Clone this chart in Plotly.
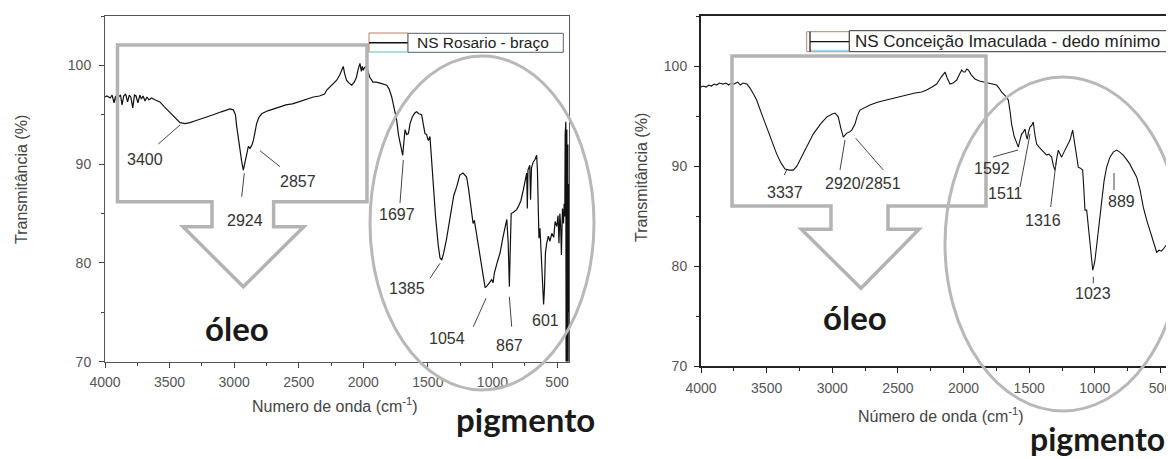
import plotly.graph_objects as go

# ---------------- data ----------------
series_names = ["NS Rosario - braço", "NS Conceição Imaculada - dedo mínimo"]

rosario_wn = [4000, 3985, 3960, 3945, 3930, 3918, 3905, 3895, 3880, 3868, 3855, 3840, 3825, 3812,
              3800, 3785, 3772, 3760, 3745, 3730, 3718, 3705, 3690, 3675, 3660, 3640, 3610, 3575,
              3540, 3497, 3460, 3419, 3380, 3342, 3300, 3250, 3200, 3162, 3100, 3060, 3032, 3007,
              2990, 2980, 2968, 2955, 2942, 2929, 2916, 2903, 2890, 2877, 2864, 2851, 2840, 2826,
              2810, 2787, 2740, 2700, 2645, 2600, 2550, 2500, 2450, 2387, 2340, 2300, 2283, 2260,
              2230, 2206, 2180, 2165, 2155, 2145, 2130, 2110, 2090, 2070, 2053, 2040, 2026, 2015,
              2008, 2000, 1990, 1976, 1962, 1950, 1925, 1900, 1870, 1840, 1818, 1800, 1780, 1760,
              1742, 1728, 1716, 1705, 1695, 1686, 1677, 1664, 1651, 1638, 1620, 1600, 1587, 1570,
              1548, 1535, 1522, 1510, 1497, 1484, 1471, 1458, 1440, 1420, 1406, 1393, 1380, 1357,
              1330, 1300, 1277, 1253, 1228, 1200, 1185, 1174, 1160, 1150, 1140, 1130, 1110, 1083,
              1057, 1040, 1020, 1006, 995, 985, 960, 941, 920, 900, 889, 878, 869, 862,
              855, 840, 813, 800, 780, 761, 745, 735, 730, 725, 711, 705, 698, 685,
              670, 658, 652, 646, 640, 632, 622, 612, 604, 597, 590, 580, 567, 555,
              540, 525, 515, 502, 492, 485, 478, 472, 466, 458, 450, 445, 440, 437,
              434, 432, 430, 428, 426, 424, 422, 420, 418, 416, 414, 412, 410, 408]
rosario_t = [96.8, 96.9, 96.7, 97.0, 96.2, 96.9, 95.9, 96.8, 97.0, 96.0, 96.9, 97.1, 96.3, 97.0,
             96.8, 95.7, 97.0, 96.9, 96.2, 97.0, 96.6, 96.9, 96.4, 96.8, 96.5, 96.7, 96.5, 96.3,
             95.8, 95.2, 94.7, 94.2, 94.1, 94.2, 94.4, 94.6, 94.8, 95.0, 95.3, 95.5, 95.6, 95.5,
             95.0, 93.8, 92.6, 91.4, 90.3, 89.4, 90.2, 90.8, 91.8, 91.6, 91.9, 92.4, 93.3, 94.1,
             94.7, 95.1, 95.4, 95.6, 95.8, 96.0, 96.1, 96.3, 96.5, 96.8, 96.9, 97.1, 97.5, 97.8,
             98.2, 98.5, 99.1, 99.6, 99.9, 99.2, 98.5, 98.2, 98.0, 98.3, 98.8, 99.6, 100.2, 99.4,
             99.9, 99.5, 99.8, 99.9, 99.2, 98.8, 98.3, 98.3, 98.2, 98.1, 98.0, 97.6, 96.8, 95.6,
             94.5, 93.0, 92.1, 91.5, 90.9, 92.2, 93.5, 93.0, 93.1, 94.1, 94.8, 95.2, 95.3, 95.1,
             95.0, 94.0, 93.1, 93.0, 92.4, 92.8, 90.4, 87.7, 84.6, 81.8, 80.5, 80.3, 80.9, 82.3,
             84.6, 86.8, 87.7, 88.9, 89.1, 88.7, 87.5, 86.4, 84.5, 84.0, 84.3, 83.5, 81.5, 79.6,
             77.5, 77.7, 78.1, 78.3, 78.0, 79.0, 80.2, 81.0, 82.5, 84.0, 84.4, 82.0, 77.6, 81.5,
             85.0, 85.1, 85.4, 85.7, 86.3, 87.4, 88.3, 89.1, 85.5, 89.4, 89.9, 86.4, 89.6, 90.2,
             90.5, 90.9, 89.5, 84.0, 82.5, 83.5, 81.0, 79.0, 75.8, 77.5, 81.0, 82.0, 82.7, 82.2,
             83.0, 82.6, 84.2, 83.7, 84.8, 82.0, 85.0, 83.8, 80.8, 85.5, 84.0, 86.0, 84.7, 93.0,
             72.0, 94.3, 70.0, 91.0, 74.0, 93.5, 70.0, 90.0, 73.0, 92.0, 70.0, 88.0, 75.0, 85.0]

conceicao_wn = [4000, 3985, 3960, 3940, 3920, 3900, 3880, 3860, 3832, 3810, 3790, 3770, 3750, 3720,
                3700, 3680, 3650, 3627, 3600, 3576, 3540, 3500, 3460, 3423, 3390, 3360, 3330, 3297,
                3270, 3246, 3200, 3145, 3090, 3043, 3000, 2979, 2965, 2954, 2935, 2916, 2903, 2890,
                2870, 2852, 2827, 2810, 2789, 2750, 2713, 2650, 2560, 2500, 2433, 2370, 2320, 2281,
                2240, 2205, 2170, 2141, 2125, 2103, 2080, 2052, 2030, 2014, 2000, 1989, 1975, 1963,
                1940, 1913, 1880, 1850, 1800, 1770, 1748, 1730, 1710, 1680, 1659, 1645, 1634, 1615,
                1600, 1583, 1570, 1558, 1545, 1532, 1522, 1515, 1505, 1494, 1480, 1469, 1455, 1443,
                1425, 1405, 1385, 1367, 1350, 1329, 1315, 1304, 1290, 1278, 1265, 1253, 1235, 1215,
                1200, 1189, 1169, 1160, 1151, 1140, 1126, 1110, 1093, 1085, 1075, 1062, 1050, 1042,
                1030, 1023, 1016, 1008, 999, 985, 974, 960, 948, 930, 910, 895, 885, 860,
                834, 810, 784, 760, 733, 710, 681, 655, 631, 605, 580, 555, 540, 529,
                510, 495, 479, 460, 440, 425, 415]
conceicao_t = [97.9, 98.0, 97.9, 98.1, 98.0, 98.2, 98.1, 98.3, 98.2, 98.3, 98.1, 98.3, 98.2, 98.4,
               98.1, 98.3, 98.2, 97.8, 97.2, 96.6, 95.3, 93.9, 92.5, 91.2, 90.3, 89.7, 89.6, 89.6,
               90.0, 90.6, 91.9, 93.2, 94.2, 94.9, 95.2, 95.3, 95.1, 94.9, 93.8, 92.9, 93.1, 93.3,
               93.4, 93.6, 94.2, 95.0, 95.6, 95.9, 96.1, 96.4, 96.7, 96.9, 97.1, 97.3, 97.4, 97.6,
               97.9, 98.2, 98.9, 99.4, 98.8, 98.2, 98.3, 98.6, 99.2, 99.6, 99.4, 99.4, 99.7, 99.6,
               99.1, 98.7, 98.5, 98.4, 98.3, 98.2, 98.1, 97.8, 97.4, 97.0, 96.6, 95.4, 94.2, 93.0,
               92.4, 91.9, 92.6, 93.2, 93.4, 93.7, 93.0, 92.7, 93.4, 93.9, 94.1, 94.4, 93.0, 92.2,
               91.9, 91.6, 91.3, 91.1, 91.2, 90.9, 90.0, 89.6, 90.8, 91.6, 91.2, 90.9, 91.4, 91.9,
               92.3, 92.6, 93.6, 92.8, 91.9, 90.8, 89.9, 89.8, 89.6, 88.0, 85.6, 85.6, 84.0, 82.9,
               81.0, 80.0, 79.6, 80.0, 80.6, 82.2, 83.6, 85.2, 86.6, 88.5, 89.9, 90.4, 90.9, 91.4,
               91.6, 91.4, 91.1, 90.7, 90.2, 89.6, 88.9, 87.6, 85.9, 84.6, 83.5, 82.6, 81.9, 81.4,
               81.6, 81.5, 81.7, 82.1, 82.4, 82.0, 82.1]

rosario_peak_labels = ["3400", "2924", "2857", "1697", "1385", "1054", "867", "601"]
conceicao_peak_labels = ["3337", "2920/2851", "1592", "1511", "1316", "1023", "889"]
region_labels = ["óleo", "pigmento"]
x_titles = ["Numero de onda (cm<sup>-1</sup>)", "Número de onda (cm<sup>-1</sup>)"]
y_title = "Transmitância (%)"

# ---------------- layout helpers ----------------
W, H = 1174, 459
OFF = 8  # page body margin of the exported html
FONT = "Liberation Sans, Arial, sans-serif"
BOLD = "Lato, Noto Sans, sans-serif"


def px(x):
    return (x - OFF) / W


def py(y):
    return 1 - (y - OFF) / H


fig = go.Figure()
fig.add_trace(go.Scatter(x=rosario_wn, y=rosario_t, mode="lines", name=series_names[0],
                         line=dict(color="#111111", width=1.2), xaxis="x", yaxis="y",
                         showlegend=False, hoverinfo="skip"))
fig.add_trace(go.Scatter(x=conceicao_wn, y=conceicao_t, mode="lines", name=series_names[1],
                         line=dict(color="#111111", width=1.1), xaxis="x2", yaxis="y2",
                         showlegend=False, hoverinfo="skip"))

tickfont = dict(family=FONT, size=14, color="#555555")
common = dict(showgrid=False, zeroline=False, showline=True, ticks="outside", tickfont=tickfont,
              automargin=False)

fig.update_layout(
    width=W, height=H, autosize=False, margin=dict(l=0, r=0, t=0, b=0),
    paper_bgcolor="white", plot_bgcolor="white", font=dict(family=FONT),
    xaxis=dict(domain=[px(105), px(569.3)], range=[4000, 405], anchor="y", tick0=0, dtick=500,
               ticklen=5, tickcolor="#444", linecolor="#555", linewidth=1, mirror=True,
               minor=dict(ticks="outside", ticklen=3, tick0=0, dtick=250, tickcolor="#444"),
               ticklabelstandoff=2, **common),
    yaxis=dict(domain=[py(361.7), py(16)], range=[70, 105], anchor="x", tick0=0, dtick=10,
               ticklen=5, tickcolor="#444", linecolor="#555", linewidth=1, mirror=True,
               minor=dict(ticks="outside", ticklen=3, tick0=0, dtick=5, tickcolor="#444"),
               ticklabelstandoff=5, **common),
    xaxis2=dict(domain=[px(701), px(1174)], range=[4000, 397], anchor="y2", tick0=0, dtick=500,
                ticklen=5, tickcolor="#222", linecolor="#222", linewidth=1.8, mirror=True,
                minor=dict(ticks="outside", ticklen=3, tick0=0, dtick=250, tickcolor="#222"),
                ticklabelstandoff=3, **common),
    yaxis2=dict(domain=[py(366.3), py(16)], range=[70, 105], anchor="x2", tick0=0, dtick=10,
                ticklen=5, tickcolor="#222", linecolor="#222", linewidth=2,
                minor=dict(ticks="outside", ticklen=3, tick0=0, dtick=5, tickcolor="#222"),
                ticklabelstandoff=4, **common),
)

shapes = []
GRAY = "#b3b3b3"


def path(points):
    return "M " + " L ".join(f"{px(x):.5f},{py(y):.5f}" for x, y in points) + " Z"


# callout arrows (rectangle + downward arrow)
left_callout = [(117.5, 45), (367, 45), (367, 201.7), (273.6, 201.7), (273.6, 226.7), (303.8, 226.7),
                (243.3, 286.7), (183, 226.7), (212, 226.7), (212, 201.7), (117.5, 201.7)]
right_callout = [(732, 56), (986, 56), (986, 206), (888, 206), (888, 229.3), (919, 229.3),
                 (861, 288.3), (801.4, 229.3), (831, 229.3), (831, 206), (732, 206)]
for pts in (left_callout, right_callout):
    shapes.append(dict(type="path", xref="paper", yref="paper", path=path(pts),
                       line=dict(color=GRAY, width=3.5), layer="above"))

# ellipses
for (x0, x1, y0, y1) in [(370, 594, 56, 390), (945, 1181, 77, 411)]:
    shapes.append(dict(type="circle", xref="paper", yref="paper", x0=px(x0), x1=px(x1),
                       y0=py(y1), y1=py(y0), line=dict(color="#b8b8b8", width=3), layer="above"))

# leader lines
leaders = [
    (158.3, 144, 180, 125), (241.7, 196.7, 244.3, 173.3), (280, 166.7, 260, 150.7),
    (400, 203, 403.3, 160), (430, 278.3, 440, 263.3), (473.3, 326.7, 486, 298.3),
    (511.7, 326.7, 509.3, 296.7),
    (784.3, 175, 786.7, 170), (840, 170, 845, 140), (883.3, 170, 855.7, 138.3),
    (993, 157, 1018, 150), (1020, 187, 1030, 134), (1050.7, 207, 1056, 163),
    (1114, 173, 1114, 190), (1093.3, 276.7, 1093.3, 283.3),
]
for x0, y0, x1, y1 in leaders:
    shapes.append(dict(type="line", xref="paper", yref="paper", x0=px(x0), y0=py(y0),
                       x1=px(x1), y1=py(y1), line=dict(color="#444", width=1), layer="above"))

# legend boxes
shapes += [
    dict(type="rect", xref="paper", yref="paper", x0=px(369), x1=px(408), y0=py(52), y1=py(33),
         line=dict(color="#c0806a", width=1), fillcolor="white", layer="above"),
    dict(type="line", xref="paper", yref="paper", x0=px(369), x1=px(408), y0=py(52), y1=py(52),
         line=dict(color="#9fe3f0", width=1.5), layer="above"),
    dict(type="line", xref="paper", yref="paper", x0=px(369), x1=px(408), y0=py(42.7), y1=py(42.7),
         line=dict(color="#111", width=1.5), layer="above"),
    dict(type="rect", xref="paper", yref="paper", x0=px(408), x1=px(563.3), y0=py(52.3), y1=py(33.3),
         line=dict(color="#556070", width=1), fillcolor="white", layer="above"),
    dict(type="rect", xref="paper", yref="paper", x0=px(806.7), x1=px(849.3), y0=py(51.7), y1=py(31.7),
         line=dict(color="#c0806a", width=1), fillcolor="white", layer="above"),
    dict(type="line", xref="paper", yref="paper", x0=px(810), x1=px(849), y0=py(50.5), y1=py(50.5),
         line=dict(color="#9fe3f0", width=1.5), layer="above"),
    dict(type="line", xref="paper", yref="paper", x0=px(810), x1=px(810), y0=py(51.7), y1=py(31.7),
         line=dict(color="#111", width=1.2), layer="above"),
    dict(type="line", xref="paper", yref="paper", x0=px(810), x1=px(849), y0=py(41.7), y1=py(41.7),
         line=dict(color="#111", width=1.2), layer="above"),
    dict(type="rect", xref="paper", yref="paper", x0=px(849.3), x1=px(1167.3), y0=py(51.7), y1=py(30.7),
         line=dict(color="#333", width=1), fillcolor="white", layer="above"),
]
fig.update_layout(shapes=shapes)

ann = []


def text(t, x, y, size, color="#333", family=FONT, xanchor="center", angle=0, bold=False):
    ann.append(dict(text=f"<b>{t}</b>" if bold else t, x=px(x), y=py(y), xref="paper", yref="paper",
                    showarrow=False, xanchor=xanchor, yanchor="middle", textangle=angle,
                    font=dict(family=family, size=size, color=color)))


# peak labels
rosario_pos = [(144.7, 159.3), (245, 220), (298, 181.7), (396.7, 215), (406.7, 288.3),
               (447, 338.3), (509, 345), (545, 320)]
for t, (x, y) in zip(rosario_peak_labels, rosario_pos):
    text(t, x, y, 16)
conceicao_pos = [(785, 192.7), (863, 183), (991.7, 168), (1005, 193), (1043, 220), (1093, 293),
                 (1121.7, 201.7)]
for t, (x, y) in zip(conceicao_peak_labels, conceicao_pos):
    text(t, x, y, 16)

# legend texts
text(series_names[0], 415, 42.7, 15.5, color="#222", xanchor="left")
text(series_names[1], 853, 41.5, 17, color="#222", xanchor="left")

# axis titles
text(x_titles[0], 335, 405, 16, color="#444")
text(x_titles[1], 941, 415, 16, color="#444")
text(y_title, 22, 180, 16, color="#444", angle=-90)
text(y_title, 641, 178, 16, color="#444", angle=-90)

# region labels
text(region_labels[0], 237, 328, 33, color="#1a1a1a", family=BOLD, bold=True)
text(region_labels[1], 525, 419, 33, color="#1a1a1a", family=BOLD, bold=True)
text(region_labels[0], 855, 317, 33, color="#1a1a1a", family=BOLD, bold=True)
text(region_labels[1], 1097, 438, 32, color="#1a1a1a", family=BOLD, bold=True)

fig.update_layout(annotations=ann)
fig.write_html("out.html")
